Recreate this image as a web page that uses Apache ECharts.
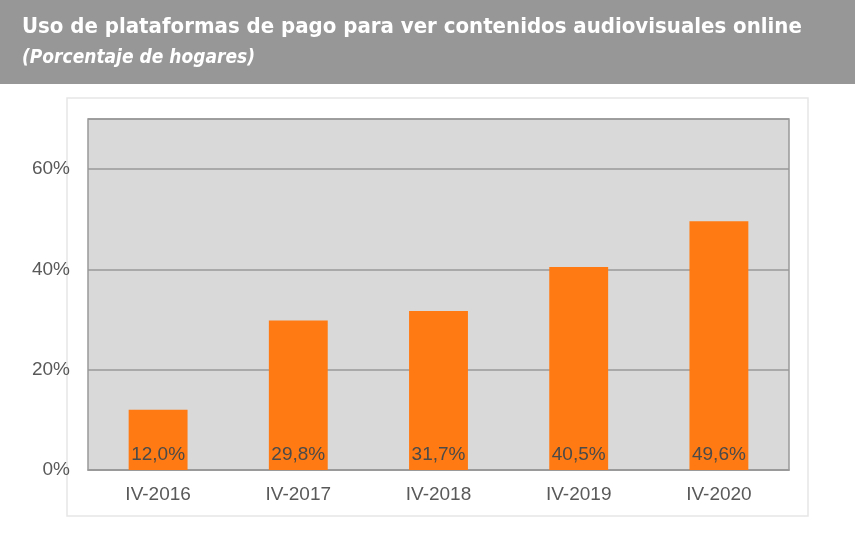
<!DOCTYPE html>
<html style="height: 100%">
<head>
<meta charset="utf-8">
</head>
<body style="height: 100%; margin: 0; background: #fff">
<div id="container" style="width: 855px; height: 550px;"></div>
<script type="text/javascript" src="https://cdn.jsdelivr.net/npm/echarts@6/dist/echarts.min.js"></script>
<script type="text/javascript">
var categories = ['IV-2016', 'IV-2017', 'IV-2018', 'IV-2019', 'IV-2020'];
var values = [12.0, 29.8, 31.7, 40.5, 49.6];
var yTicks = [0, 20, 40, 60];

var chart = echarts.init(document.getElementById('container'));

var option = {
    animation: false,
    backgroundColor: '#fff',
    graphic: [
        {
            type: 'rect',
            shape: { x: 0, y: 0, width: 855, height: 84 },
            style: { fill: '#979797' },
            z: -10
        },
        {
            type: 'rect',
            shape: { x: 67, y: 98, width: 741, height: 418 },
            style: { fill: '#fff', stroke: '#e6e6e6', lineWidth: 1.5 },
            z: -10
        }
    ],
    title: [
        {
            text: 'Uso de plataformas de pago para ver contenidos audiovisuales online',
            left: 17,
            top: 11,
            textStyle: {
                color: '#fff',
                fontSize: 22,
                fontWeight: 'bold',
                fontFamily: '"Liberation Sans Narrow", "DejaVu Sans Condensed", sans-serif'
            }
        },
        {
            text: '(Porcentaje de hogares)',
            left: 17,
            top: 44,
            textStyle: {
                color: '#fff',
                fontSize: 19,
                fontWeight: 'bold',
                fontStyle: 'italic',
                fontFamily: '"Liberation Sans Narrow", "DejaVu Sans Condensed", sans-serif'
            }
        }
    ],
    grid: {
        left: 88,
        right: 66,
        top: 119,
        bottom: 80,
        show: true,
        backgroundColor: '#d9d9d9',
        borderColor: '#999',
        borderWidth: 1.5
    },
    xAxis: {
        type: 'category',
        data: categories,
        axisLine: { show: true, lineStyle: { color: '#999', width: 1.5 } },
        axisTick: { show: false },
        axisLabel: {
            color: '#595959',
            fontSize: 19,
            fontFamily: '"Liberation Sans", Arial, sans-serif',
            margin: 15
        }
    },
    yAxis: {
        type: 'value',
        min: 0,
        max: 70,
        interval: 20,
        axisLine: { show: false },
        axisTick: { show: false },
        splitLine: { lineStyle: { color: '#999', width: 1.5 } },
        axisLabel: {
            color: '#595959',
            fontSize: 19,
            fontFamily: '"Liberation Sans", Arial, sans-serif',
            margin: 18,
            formatter: function (v) {
                return yTicks.indexOf(v) >= 0 ? v + '%' : '';
            }
        }
    },
    series: [
        {
            type: 'bar',
            data: values,
            barWidth: '42%',
            itemStyle: { color: '#ff7a12' },
            label: {
                show: true,
                position: 'insideBottom',
                distance: 6,
                color: '#4a4a4a',
                fontSize: 19,
                fontFamily: '"Liberation Sans", Arial, sans-serif',
                formatter: function (p) {
                    return p.value.toFixed(1).replace('.', ',') + '%';
                }
            }
        }
    ]
};

chart.setOption(option);
</script>
</body>
</html>
